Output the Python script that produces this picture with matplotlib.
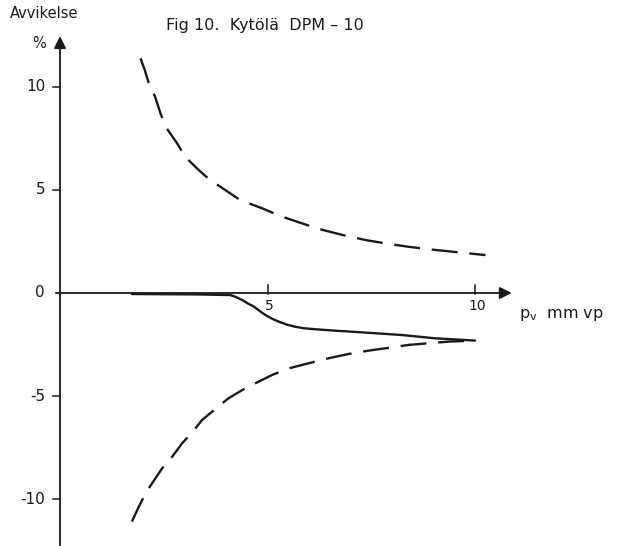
import numpy as np
import matplotlib.pyplot as plt

# p_v (mm vp) og avvik (%)
x_solid = [1.73, 2.5, 3.3, 4.1, 4.22, 4.39, 4.52, 4.67, 4.8, 4.95, 5.11, 5.27, 5.47,
           5.67, 5.87, 6.15, 6.63, 7.04, 8.24, 9.04, 10.0]
y_solid = [-0.05, -0.06, -0.07, -0.1, -0.18, -0.34, -0.5, -0.66, -0.86, -1.07, -1.25, -1.39, -1.54,
           -1.64, -1.71, -1.76, -1.83, -1.88, -2.04, -2.2, -2.31]

x_upper = [1.94, 2.04, 2.14, 2.29, 2.42, 2.57, 2.82, 3.01, 3.34, 3.61, 3.98, 4.34, 4.87,
           5.3, 5.83, 6.27, 6.8, 7.36, 7.92, 8.48, 9.04, 10.25]
y_upper = [11.39, 10.83, 10.18, 9.53, 8.72, 7.99, 7.27, 6.62, 5.97, 5.49, 5.0, 4.51, 4.11,
           3.74, 3.38, 3.09, 2.82, 2.57, 2.38, 2.22, 2.09, 1.84]

x_lower = [1.73, 1.9, 2.06, 2.27, 2.46, 2.72, 2.94, 3.2, 3.42, 3.74, 4.06, 4.39, 4.71,
           5.11, 5.51, 5.99, 6.47, 6.95, 7.43, 7.92, 8.4, 8.88, 9.37, 10.0]
y_lower = [-11.1, -10.37, -9.72, -9.08, -8.51, -7.9, -7.3, -6.73, -6.17, -5.63, -5.11, -4.71, -4.38,
           -3.98, -3.66, -3.41, -3.17, -2.96, -2.8, -2.66, -2.52, -2.44, -2.36, -2.31]

y_ticks = [-10, -5, 0, 5, 10]
y_labels = ['-10', '-5', '0', '5', '10']
x_ticks = [5, 10]

farge = '#1a1a1a'

fig = plt.figure(figsize=(6.22, 5.46), dpi=100)
ax = fig.add_axes([0, 0, 1, 1])
ax.set_xlim(-1.446, 13.54)
ax.set_ylim(-12.28, 14.22)
for s in ax.spines.values():
    s.set_visible(False)
ax.set_xticks([])
ax.set_yticks([])

# akser med piler
ax.annotate('', xy=(10.95, 0), xytext=(-0.17, 0),
            arrowprops=dict(arrowstyle='-|>', color=farge, lw=1.3, mutation_scale=18))
ax.annotate('', xy=(0, 12.6), xytext=(0, -12.4),
            arrowprops=dict(arrowstyle='-|>', color=farge, lw=1.3, mutation_scale=18))

for t, lab in zip(y_ticks, y_labels):
    if t != 0:
        ax.plot([-0.16, 0], [t, t], color=farge, lw=1.1)
    ax.text(-0.36, t, lab, ha='right', va='center', fontsize=11, color=farge)

for t in x_ticks:
    ax.plot([t, t], [-0.05, 0.4], color=farge, lw=1.1)
    ax.text(t + 0.05, -0.3, str(t), ha='center', va='top', fontsize=10, color=farge)

ax.plot(x_solid, y_solid, color=farge, lw=1.7, solid_capstyle='round', solid_joinstyle='round')
ax.plot(x_upper, y_upper, color=farge, lw=1.7, dashes=(11, 5))
ax.plot(x_lower, y_lower, color=farge, lw=1.7, dashes=(11, 5))

ax.text(-1.2, 13.55, 'Avvikelse', ha='left', va='center', fontsize=10.5, color=farge)
ax.text(-0.5, 12.1, '%', ha='center', va='center', fontsize=10.5, color=farge)
ax.text(2.55, 13.0, 'Fig 10.  Kytölä  DPM \u2013 10', ha='left', va='center',
        fontsize=11.5, color=farge)
ax.text(11.05, -1.05, r'p$_\mathregular{v}$  mm vp', ha='left', va='center',
        fontsize=11.5, color=farge)

fig.savefig('out.png', dpi=100, facecolor='white')
